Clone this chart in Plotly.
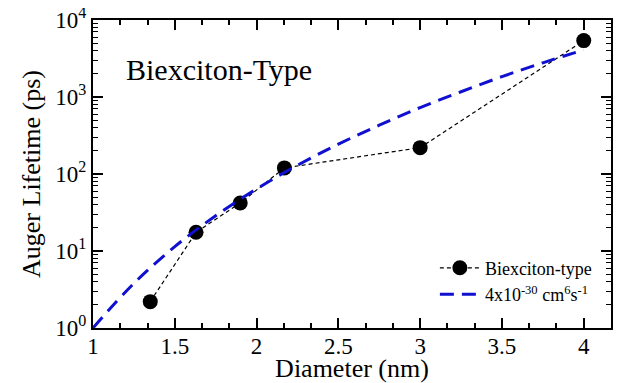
import plotly.graph_objects as go

# Data points (Biexciton-type)
diameter = [1.35, 1.63, 1.90, 2.17, 3.00, 4.00]
lifetime = [2.2, 17.5, 42.0, 120.0, 220.0, 5400.0]

# Model curve (4x10^-30 cm^6 s^-1)
model_d = [1.0, 1.25, 1.5, 1.75, 2.0, 2.25, 2.5, 2.75, 3.0, 3.25, 3.5, 3.75, 4.0]
model_tau = [1.0, 3.8, 11.4, 28.7, 64.0, 130.0, 244.0, 430.0, 730.0, 1170.0, 1840.0, 2780.0, 4100.0]

ytick_vals = [1, 10, 100, 1000, 10000]
ytick_text = ["10<sup>0</sup>", "10<sup>1</sup>", "10<sup>2</sup>", "10<sup>3</sup>", "10<sup>4</sup>"]
yminor_vals = [m * 10 ** e for e in range(4) for m in range(2, 10)]

font_family = "Liberation Serif, Times New Roman, serif"

fig = go.Figure()
fig.add_trace(go.Scatter(
    x=diameter, y=lifetime, mode="lines+markers", name="Biexciton-type",
    line=dict(color="black", width=1.2, dash="4px,3px"),
    marker=dict(color="black", size=15),
))
fig.add_trace(go.Scatter(
    x=model_d, y=model_tau, mode="lines",
    name="4x10<sup>-30</sup> cm<sup>6</sup>s<sup>-1</sup>",
    line=dict(color="#1010d0", width=3, dash="14px,8px", shape="spline"),
))

fig.update_layout(
    width=615, height=375,
    margin=dict(l=85, r=12, t=12, b=55),
    paper_bgcolor="white", plot_bgcolor="white",
    font=dict(family=font_family, color="black"),
    showlegend=True,
    legend=dict(x=0.66, y=0.05, xanchor="left", yanchor="bottom",
                bgcolor="rgba(0,0,0,0)", font=dict(size=18, family=font_family),
                tracegroupgap=2, itemwidth=40),
    annotations=[dict(text="Biexciton-Type", x=0.06, y=0.84, xref="paper", yref="paper",
                      xanchor="left", yanchor="middle", showarrow=False,
                      font=dict(size=30, family=font_family))],
)
fig.update_xaxes(
    range=[1, 4 + 1 / 6], tick0=1, dtick=0.5, automargin=False,
    showline=True, linecolor="black", linewidth=2, mirror="ticks",
    ticks="inside", ticklen=10, tickwidth=1.5, tickcolor="black",
    ticklabelstandoff=-4,
    minor=dict(ticks="inside", ticklen=5, tickwidth=1.5, tickcolor="black", dtick=1 / 6, tick0=1),
    showgrid=False, zeroline=False,
    tickfont=dict(size=23, family=font_family),
    title=dict(text="Diameter (nm)", font=dict(size=26, family=font_family), standoff=7),
)
fig.update_yaxes(
    type="log", range=[0, 4], automargin=False, ticklabeloverflow="allow",
    tickvals=ytick_vals, ticktext=ytick_text,
    showline=True, linecolor="black", linewidth=2, mirror="ticks",
    ticks="inside", ticklen=10, tickwidth=1.5, tickcolor="black",
    minor=dict(ticks="inside", ticklen=5, tickwidth=1, tickcolor="black", tickvals=yminor_vals),
    showgrid=False, zeroline=False,
    tickfont=dict(size=23, family=font_family),
    title=dict(text="Auger Lifetime (ps)", font=dict(size=26, family=font_family), standoff=7),
)

fig.write_html("out.html")
